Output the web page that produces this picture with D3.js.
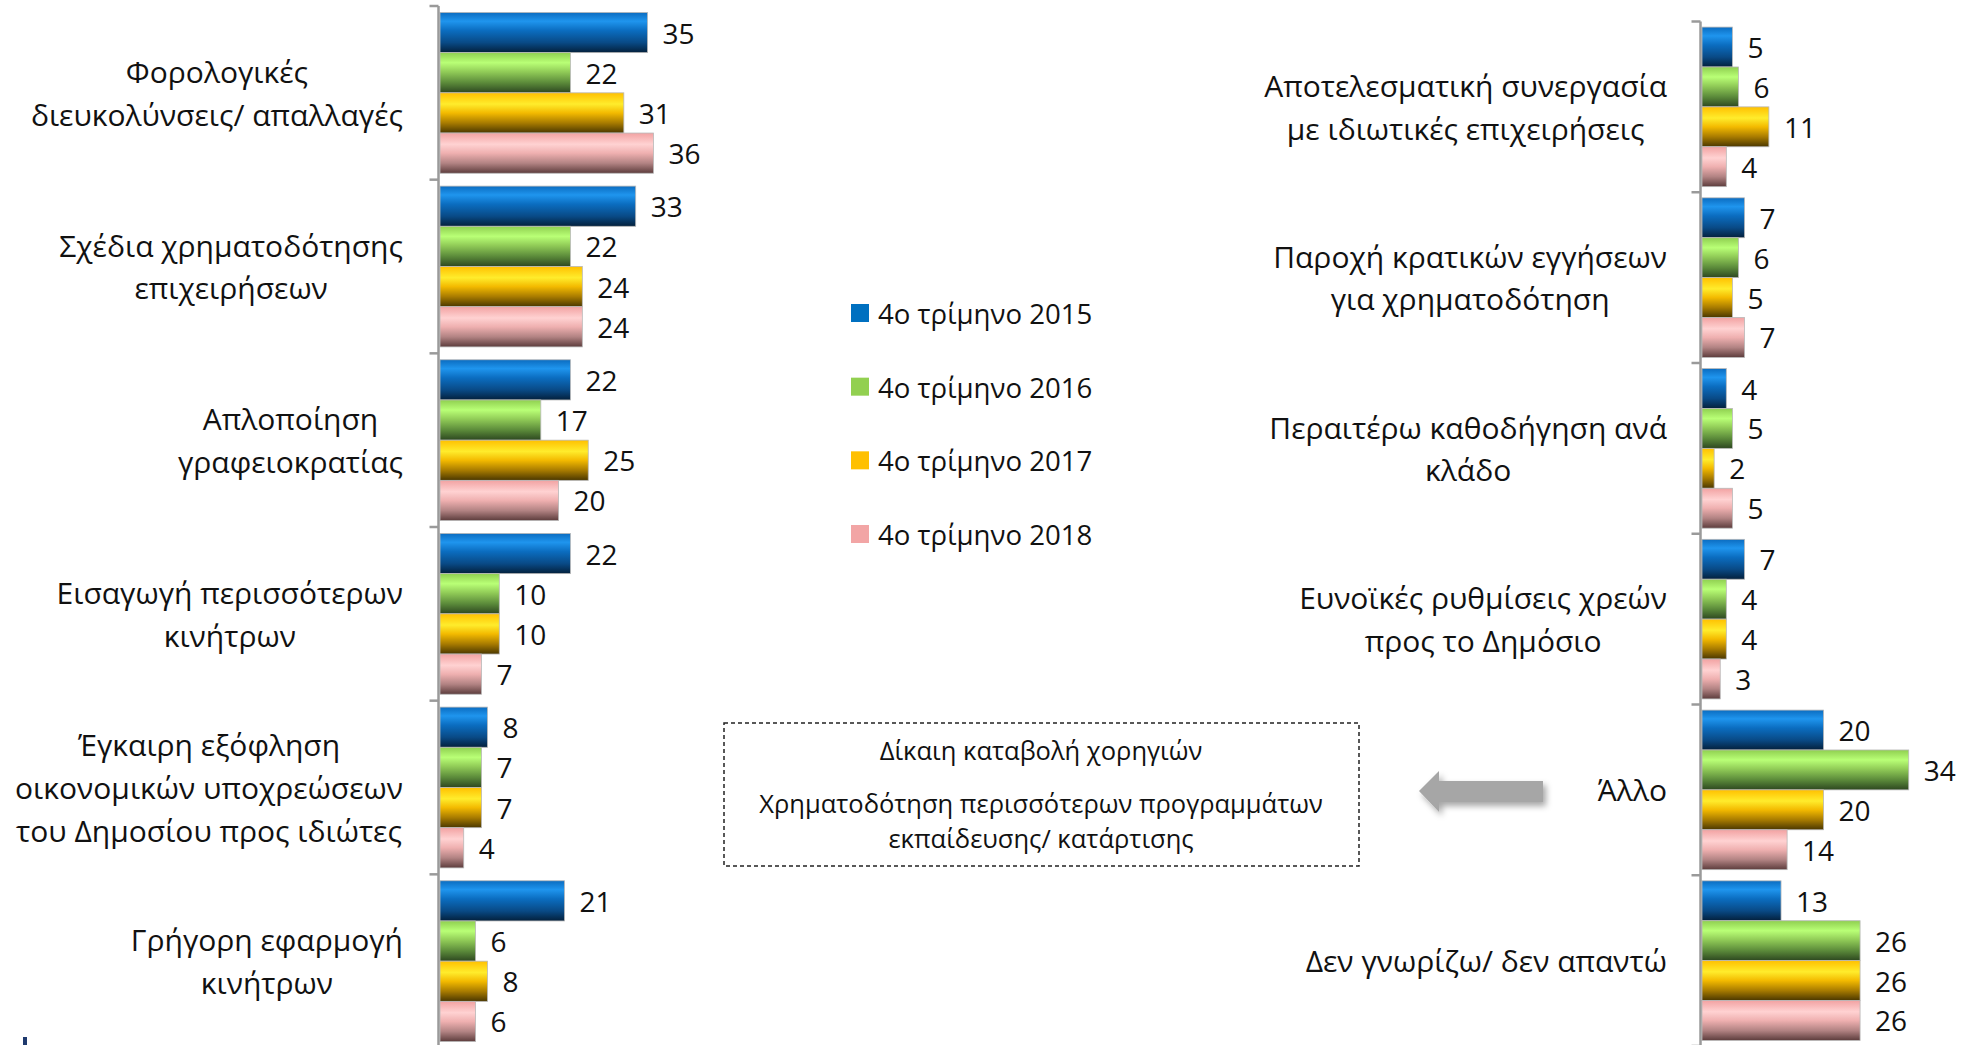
<!DOCTYPE html>
<html>
<head>
<meta charset="utf-8">
<script src="https://cdn.jsdelivr.net/npm/d3@7"></script>
<style>
  html, body { margin: 0; padding: 0; background: #ffffff; }
  svg { display: block; }
  text { font-family: "Open Sans", "Noto Sans", sans-serif; fill: #111; }
</style>
</head>
<body>
<svg id="chart" width="1971" height="1045"></svg>
<script>
// ---------------- DATA ----------------
const seriesNames = ["4ο τρίμηνο 2015", "4ο τρίμηνο 2016", "4ο τρίμηνο 2017", "4ο τρίμηνο 2018"];

const leftCategories = [
  "Φορολογικές\nδιευκολύνσεις/ απαλλαγές",
  "Σχέδια χρηματοδότησης\nεπιχειρήσεων",
  "Απλοποίηση\nγραφειοκρατίας",
  "Εισαγωγή περισσότερων\nκινήτρων",
  "Έγκαιρη εξόφληση\nοικονομικών υποχρεώσεων\nτου Δημοσίου προς ιδιώτες",
  "Γρήγορη εφαρμογή\nκινήτρων"
];
const left2015 = [35, 33, 22, 22, 8, 21];
const left2016 = [22, 22, 17, 10, 7, 6];
const left2017 = [31, 24, 25, 10, 7, 8];
const left2018 = [36, 24, 20, 7, 4, 6];

const rightCategories = [
  "Αποτελεσματική συνεργασία\nμε ιδιωτικές επιχειρήσεις",
  "Παροχή κρατικών εγγήσεων\nγια χρηματοδότηση",
  "Περαιτέρω καθοδήγηση ανά\nκλάδο",
  "Ευνοϊκές ρυθμίσεις χρεών\nπρος το Δημόσιο",
  "Άλλο",
  "Δεν γνωρίζω/ δεν απαντώ"
];
const right2015 = [5, 7, 4, 7, 20, 13];
const right2016 = [6, 6, 5, 4, 34, 26];
const right2017 = [11, 5, 2, 4, 20, 26];
const right2018 = [4, 7, 5, 3, 14, 26];

const otherAnswers = [
  "Δίκαιη καταβολή χορηγιών",
  "Χρηματοδότηση περισσότερων προγραμμάτων\nεκπαίδευσης/ κατάρτισης"
];

// ---------------- STYLE ----------------
const legendColors = ["#0070c0", "#92d050", "#ffc000", "#f2a5a5"];
const gradStops = [
  [["0", "#0b6cc0"], ["0.22", "#1f95ee"], ["0.45", "#0b6dc0"], ["0.75", "#094a86"], ["1", "#03203c"]],
  [["0", "#8fcf50"], ["0.25", "#b9ff76"], ["0.47", "#92cd58"], ["0.75", "#5b8a3a"], ["1", "#2d4720"]],
  [["0", "#ffc000"], ["0.28", "#ffec2c"], ["0.5", "#f3ba00"], ["0.75", "#a87b00"], ["1", "#4a3700"]],
  [["0", "#f2a2a2"], ["0.28", "#ffd2d2"], ["0.5", "#efb0b0"], ["0.75", "#b28383"], ["1", "#5c3c3c"]]
];

const svg = d3.select("#chart");
const defs = svg.append("defs");
gradStops.forEach((stops, i) => {
  const g = defs.append("linearGradient").attr("id", "grad" + i)
    .attr("x1", 0).attr("y1", 0).attr("x2", 0).attr("y2", 1);
  stops.forEach(s => g.append("stop").attr("offset", s[0]).attr("stop-color", s[1]));
});
const shadow = defs.append("filter").attr("id", "shadow")
  .attr("x", "-20%").attr("y", "-40%").attr("width", "150%").attr("height", "200%");
shadow.append("feDropShadow").attr("dx", 3).attr("dy", 4).attr("stdDeviation", 3)
  .attr("flood-color", "#000").attr("flood-opacity", 0.35);

const FONT = 28;
const CAT_FONT = 30;
const LINE_H = 42.7;

function drawPanel(cfg) {
  const g = svg.append("g");
  const data = cfg.categories.map((c, i) => ({
    cat: c, values: cfg.series.map((s, k) => ({ k, v: s[i] }))
  }));
  const y = d3.scaleBand().domain(cfg.categories).range(cfg.yRange).paddingInner(0).paddingOuter(0);
  const yIn = d3.scaleBand().domain(d3.range(4)).range([0, y.bandwidth()]).paddingOuter(cfg.innerPad).paddingInner(0);
  const x = d3.scaleLinear().domain([0, 40]).range(cfg.xRange);

  // bars
  const grp = g.selectAll("g.cat").data(data).join("g")
    .attr("transform", d => `translate(0,${y(d.cat)})`);
  grp.selectAll("rect").data(d => d.values).join("rect")
    .attr("x", x(0))
    .attr("y", d => yIn(d.k))
    .attr("width", d => x(d.v) - x(0))
    .attr("height", yIn.bandwidth())
    .attr("fill", d => `url(#grad${d.k})`)
    .attr("stroke", "#b8b8b8").attr("stroke-width", 0.8);
  grp.selectAll("text.val").data(d => d.values).join("text")
    .attr("class", "val")
    .attr("x", d => x(d.v) + 15)
    .attr("y", d => yIn(d.k) + yIn.bandwidth() / 2)
    .attr("dominant-baseline", "central")
    .style("font-size", FONT + "px")
    .text(d => d.v);

  // axis
  const axisG = g.append("g").attr("transform", `translate(${cfg.axisX},0)`);
  const ticks = cfg.categories.map(c => y(c)).concat([cfg.yRange[1]]);
  axisG.append("line").attr("x1", 0).attr("x2", 0)
    .attr("y1", cfg.yRange[0]).attr("y2", cfg.yRange[1])
    .attr("stroke", "#9a9a9a").attr("stroke-width", 2.5);
  axisG.selectAll("line.tick").data(ticks).join("line").attr("class", "tick")
    .attr("x1", -9).attr("x2", 0).attr("y1", d => d).attr("y2", d => d)
    .attr("stroke", "#9a9a9a").attr("stroke-width", 2.5);

  // category labels (lines centered, block right-aligned)
  data.forEach(d => {
    const lines = d.cat.split("\n");
    const t = g.append("text").style("font-size", CAT_FONT + "px").attr("text-anchor", "middle");
    const cy = y(d.cat) + y.bandwidth() / 2;
    const tspans = lines.map((ln, j) => t.append("tspan")
      .attr("y", cy + (j - (lines.length - 1) / 2) * LINE_H)
      .attr("dominant-baseline", "central")
      .text(ln));
    const maxW = d3.max(tspans, ts => ts.node().getComputedTextLength());
    tspans.forEach(ts => ts.attr("x", cfg.labelRight - maxW / 2));
  });
}

drawPanel({
  categories: leftCategories,
  series: [left2015, left2016, left2017, left2018],
  yRange: [6, 1048],
  xRange: [440, 440 + 5.93 * 40],
  axisX: 438.5,
  innerPad: 0.16,
  labelRight: 403
});
drawPanel({
  categories: rightCategories,
  series: [right2015, right2016, right2017, right2018],
  yRange: [21.5, 1046],
  xRange: [1702, 1702 + 6.08 * 40],
  axisX: 1700.5,
  innerPad: 0.14,
  labelRight: 1667
});

// legend
const legend = svg.append("g");
const legY = d3.scalePoint().domain(seriesNames).range([313, 534]);
seriesNames.forEach((s, i) => {
  legend.append("rect").attr("x", 851).attr("y", legY(s) - 9).attr("width", 18).attr("height", 18)
    .attr("fill", legendColors[i]);
  legend.append("text").attr("x", 878).attr("y", legY(s)).attr("dominant-baseline", "central")
    .style("font-size", "27.6px").text(s);
});

// "other" box
svg.append("rect").attr("x", 724).attr("y", 723).attr("width", 635).attr("height", 143)
  .attr("fill", "none").attr("stroke", "#222").attr("stroke-width", 1.5)
  .attr("stroke-dasharray", "4,3");
const boxLines = [];
otherAnswers.forEach(a => a.split("\n").forEach(l => boxLines.push(l)));
const boxY = [750, 803, 838];
boxLines.forEach((l, i) => {
  svg.append("text").attr("x", 1041).attr("y", boxY[i]).attr("text-anchor", "middle")
    .attr("dominant-baseline", "central").style("font-size", "25.5px").text(l);
});

// arrow
svg.append("path")
  .attr("d", "M1419,791 L1439,771 L1439,781 L1543,781 L1543,802 L1439,802 L1439,812 Z")
  .attr("fill", "#a6a6a6").attr("filter", "url(#shadow)");

// logo fragment bottom-left
svg.append("rect").attr("x", 23).attr("y", 1037).attr("width", 4).attr("height", 8).attr("fill", "#1f3a6e");
</script>
</body>
</html>
